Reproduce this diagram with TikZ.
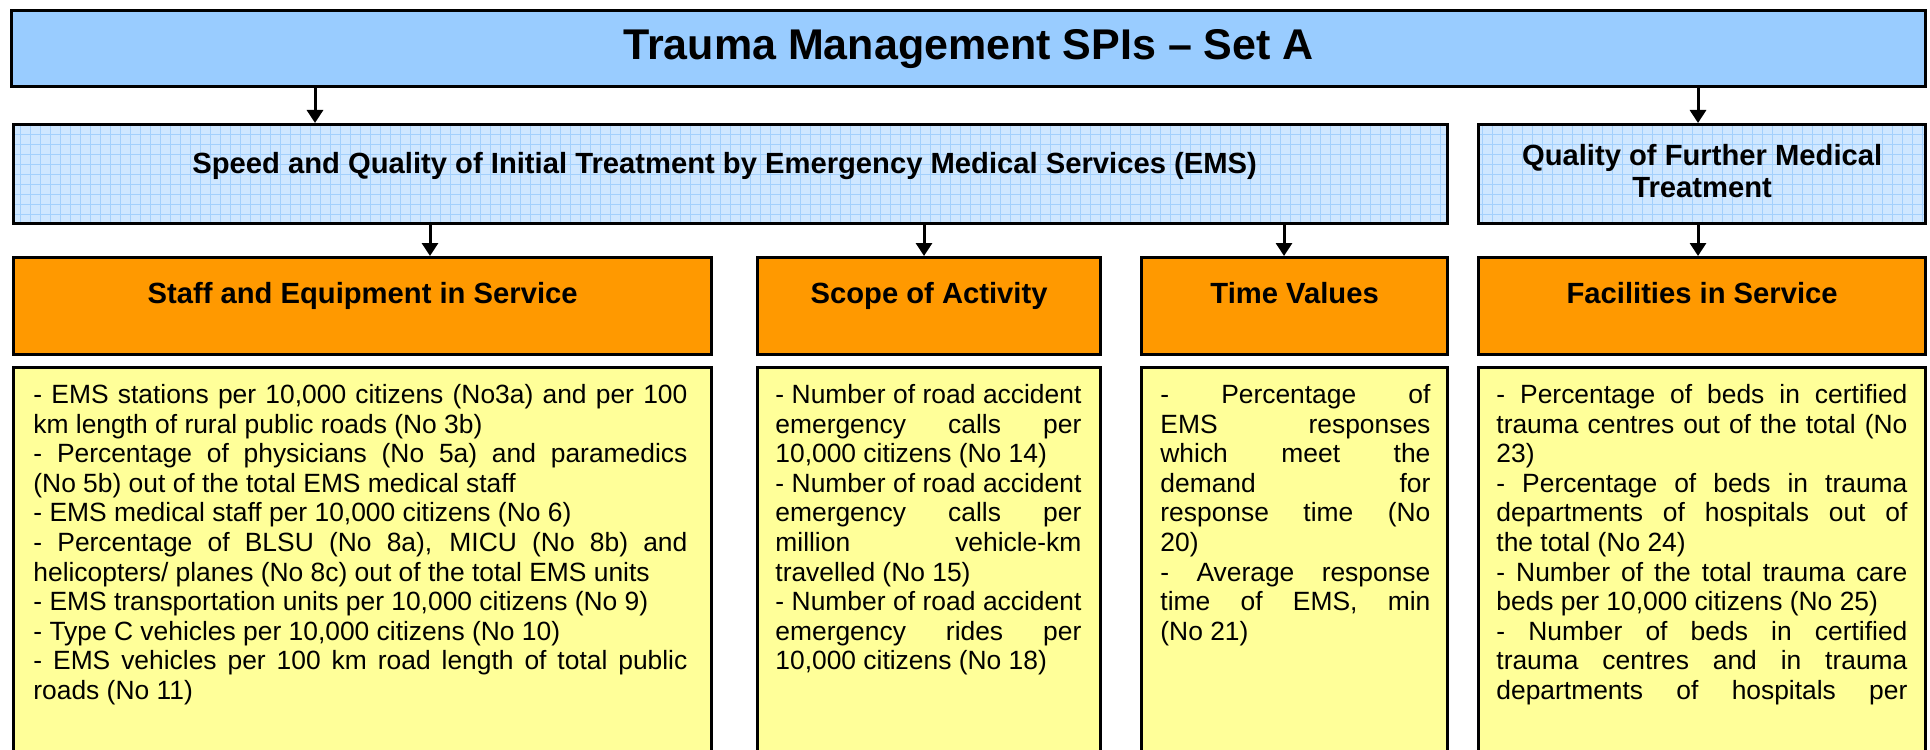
\documentclass[tikz,border=0pt]{standalone}
\usepackage{fontspec}
\setmainfont{Liberation Sans}
\usetikzlibrary{arrows.meta}
\definecolor{titleblue}{RGB}{153,204,255}
\definecolor{paleblue}{RGB}{207,231,255}
\definecolor{gridblue}{RGB}{163,208,252}
\definecolor{hdrorange}{RGB}{255,153,0}
\definecolor{listyellow}{RGB}{255,255,153}
\setlength{\parindent}{0pt}
\tolerance=10000
\hyphenpenalty=10000
\exhyphenpenalty=10000

\tikzset{
  box/.style={draw=black, line width=1.6pt, anchor=north west, inner sep=0pt},
  topbox/.style={box, fill=titleblue},
  gridbox/.style={box, fill=paleblue,
    path picture={\draw[gridblue, line width=0.4pt, step=5pt]
      (path picture bounding box.south west) grid (path picture bounding box.north east);}},
  hdrbox/.style={box, fill=hdrorange},
  listbox/.style={box, fill=listyellow, minimum height=210pt},
  hdrtext/.style={font=\bfseries\fontsize{14.6}{15.6}\selectfont, inner sep=0pt},
  listtext/.style={anchor=north west, inner sep=0pt, align=justify,
    font=\fontsize{13.2}{14.8}\selectfont},
  arrowline/.style={line width=1.5pt, -{Triangle[width=8pt,length=6.5pt]}}
}

\begin{document}
\begin{tikzpicture}
  \useasboundingbox (0,0) rectangle (965pt,-374.5pt);
  \clip (0,0) rectangle (965pt,-374.5pt);

  % Level 1 — title
  \node[topbox, minimum width=957pt, minimum height=38pt,
    font=\bfseries\fontsize{21.5}{24}\selectfont] (title) at (5pt,-4.5pt) {Trauma Management SPIs -- Set A};

  % Level 2 — treatment phases
  \node[gridbox, minimum width=717pt, minimum height=49.5pt] (ems) at (6pt,-61.5pt) {};
  \node[gridbox, minimum width=223.5pt, minimum height=49.5pt] (quality) at (738.5pt,-61.5pt) {};
  \node[hdrtext] (emsTxt) at ([xshift=-3pt, yshift=-21.5pt]ems.north)
    {Speed and Quality of Initial Treatment by Emergency Medical Services (EMS)};
  \node[hdrtext, align=center] (qualityTxt) at ([yshift=-24pt]quality.north)
    {Quality of Further Medical\\Treatment};

  % Level 3 — indicator groups
  \node[hdrbox, minimum width=349pt, minimum height=48.5pt] (staff) at (6pt,-128pt) {};
  \node[hdrbox, minimum width=171.5pt, minimum height=48.5pt] (scope) at (378pt,-128pt) {};
  \node[hdrbox, minimum width=153pt, minimum height=48.5pt] (time) at (570pt,-128pt) {};
  \node[hdrbox, minimum width=223.5pt, minimum height=48.5pt] (facil) at (738.5pt,-128pt) {};
  \node[hdrtext, anchor=base] (staffTxt) at ([yshift=-23.5pt]staff.north) {Staff and Equipment in Service};
  \node[hdrtext, anchor=base] (scopeTxt) at ([yshift=-23.5pt]scope.north) {Scope of Activity};
  \node[hdrtext, anchor=base] (timeTxt) at ([yshift=-23.5pt]time.north) {Time Values};
  \node[hdrtext, anchor=base] (facilTxt) at ([yshift=-23.5pt]facil.north) {Facilities in Service};

  % Level 4 — indicator lists
  \node[listbox, minimum width=349pt] (staffList) at (6pt,-183pt) {};
  \node[listbox, minimum width=171.5pt] (scopeList) at (378pt,-183pt) {};
  \node[listbox, minimum width=153pt] (timeList) at (570pt,-183pt) {};
  \node[listbox, minimum width=223.5pt] (facilList) at (738.5pt,-183pt) {};

  \node[listtext, text width=327pt] (staffItems) at ([shift={(10.5pt,-9pt)}]staffList.north west) {%
    - EMS stations per 10,000 citizens (No3a) and per 100\linebreak km length of rural public roads (No 3b)\par
    - Percentage of physicians (No 5a) and paramedics\linebreak (No 5b) out of the total EMS medical staff\par
    - EMS medical staff per 10,000 citizens (No 6)\par
    - Percentage of BLSU (No 8a), MICU (No 8b) and\linebreak helicopters/ planes (No 8c) out of the total EMS units\par
    - EMS transportation units per 10,000 citizens (No 9)\par
    - Type C vehicles per 10,000 citizens (No 10)\par
    - EMS vehicles per 100 km road length of total public\linebreak roads (No 11)};
  \node[listtext, text width=153pt] (scopeItems) at ([shift={(9.5pt,-9pt)}]scopeList.north west) {%
    - Number of road accident\linebreak emergency calls per\linebreak 10,000 citizens (No 14)\par
    - Number of road accident\linebreak emergency calls per\linebreak million vehicle-km\linebreak travelled (No 15)\par
    - Number of road accident\linebreak emergency rides per\linebreak 10,000 citizens (No 18)};
  \node[listtext, text width=135pt] (timeItems) at ([shift={(10pt,-9pt)}]timeList.north west) {%
    - Percentage of\linebreak EMS responses\linebreak which meet the\linebreak demand for\linebreak response time (No\linebreak 20)\par
    - Average response\linebreak time of EMS, min\linebreak (No 21)};
  \node[listtext, text width=205.5pt] (facilItems) at ([shift={(9.5pt,-9pt)}]facilList.north west) {%
    - Percentage of beds in certified\linebreak trauma centres out of the total (No\linebreak 23)\par
    - Percentage of beds in trauma\linebreak departments of hospitals out of\linebreak the total (No 24)\par
    - Number of the total trauma care\linebreak beds per 10,000 citizens (No 25)\par
    - Number of beds in certified\linebreak trauma centres and in trauma\linebreak departments of hospitals per\linebreak};

  % connectors
  \coordinate (toEms) at (157.5pt,0);
  \coordinate (toQuality) at (849pt,0);
  \coordinate (toStaff) at (215pt,0);
  \coordinate (toScope) at (462pt,0);
  \coordinate (toTime) at (642pt,0);
  \draw[arrowline] (title.south -| toEms) -- (ems.north -| toEms);
  \draw[arrowline] (title.south -| toQuality) -- (quality.north -| toQuality);
  \draw[arrowline] (ems.south -| toStaff) -- (staff.north -| toStaff);
  \draw[arrowline] (ems.south -| toScope) -- (scope.north -| toScope);
  \draw[arrowline] (ems.south -| toTime) -- (time.north -| toTime);
  \draw[arrowline] (quality.south -| toQuality) -- (facil.north -| toQuality);
\end{tikzpicture}
\end{document}
